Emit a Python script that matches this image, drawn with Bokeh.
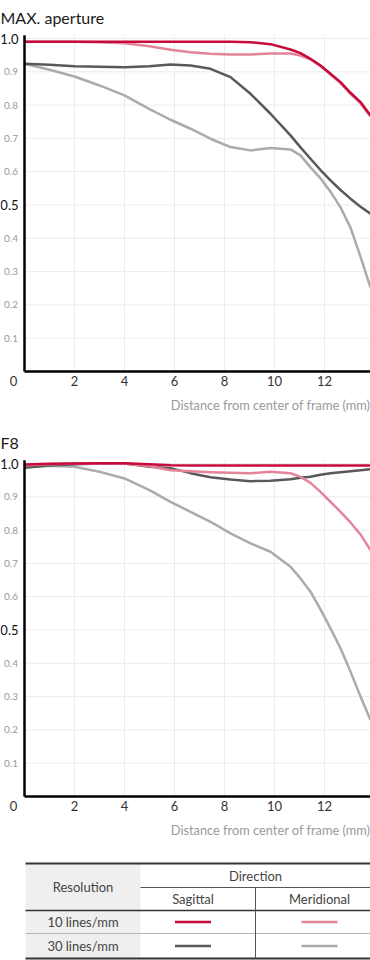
from bokeh.plotting import figure
from bokeh.models import Range1d, ColumnDataSource
from bokeh.layouts import column
from bokeh.core.properties import value
from bokeh.embed import file_html
from bokeh.resources import INLINE

FONT = "Lato"

# ---------------- data ----------------
x_mm = [0, 1, 2, 3, 4, 5, 5.84, 6.64, 7.44, 8.24, 9.04, 9.84, 10.64, 11.04, 11.44, 11.84, 12.24, 12.64, 13.04, 13.44, 13.84]

max_s10 = [0.99, 0.99, 0.99, 0.99, 0.99, 0.99, 0.99, 0.99, 0.99, 0.99, 0.989, 0.983, 0.967, 0.956, 0.939, 0.919, 0.894, 0.869, 0.837, 0.809, 0.769]
max_m10 = [0.99, 0.99, 0.99, 0.989, 0.986, 0.977, 0.966, 0.959, 0.954, 0.952, 0.952, 0.955, 0.955, 0.949, 0.937, 0.917, 0.892, 0.866, 0.834, 0.805, 0.766]
max_s30 = [0.924, 0.921, 0.917, 0.915, 0.914, 0.917, 0.922, 0.919, 0.909, 0.884, 0.834, 0.774, 0.709, 0.673, 0.639, 0.605, 0.574, 0.545, 0.519, 0.495, 0.474]
max_m30 = [0.924, 0.906, 0.886, 0.859, 0.829, 0.788, 0.756, 0.729, 0.699, 0.674, 0.664, 0.671, 0.667, 0.649, 0.613, 0.58, 0.54, 0.493, 0.432, 0.345, 0.252]

f8_s10 = [0.997, 0.999, 1.0, 1.001, 1.001, 0.998, 0.995, 0.994, 0.994, 0.994, 0.994, 0.994, 0.994, 0.994, 0.994, 0.994, 0.994, 0.994, 0.994, 0.994, 0.994]
f8_m10 = [0.995, 0.998, 1.0, 1.001, 1.0, 0.992, 0.98, 0.977, 0.974, 0.972, 0.971, 0.975, 0.971, 0.96, 0.942, 0.915, 0.885, 0.855, 0.823, 0.787, 0.74]
f8_s30 = [0.987, 0.994, 0.998, 1.0, 1.0, 0.99, 0.986, 0.971, 0.959, 0.952, 0.947, 0.948, 0.953, 0.957, 0.96, 0.966, 0.971, 0.974, 0.977, 0.98, 0.983]
f8_m30 = [0.99, 0.993, 0.99, 0.975, 0.955, 0.92, 0.885, 0.855, 0.825, 0.79, 0.76, 0.735, 0.69, 0.655, 0.615, 0.562, 0.505, 0.445, 0.375, 0.30, 0.23]

x_ticks = [2, 4, 6, 8, 10, 12]
x_tick_labels = ["2", "4", "6", "8", "10", "12"]
y_grid_ticks = [0.1, 0.2, 0.3, 0.4, 0.5, 0.6, 0.7, 0.8, 0.9, 1.0]
y_small_ticks = [0.1, 0.2, 0.3, 0.4, 0.6, 0.7, 0.8, 0.9]
y_small_labels = ["0.1", "0.2", "0.3", "0.4", "0.6", "0.7", "0.8", "0.9"]
y_big_ticks = [0.5, 1.0]
y_big_labels = ["0.5", "1.0"]

series_colors = ["#ababab", "#595959", "#e3849a", "#c70a3c"]  # 30M, 30S, 10M, 10S

x_title = "Distance from center of frame (mm)"

res_rows = ["10 lines/mm", "30 lines/mm"]
dir_cols = ["Sagittal", "Meridional"]
legend_colors = [["#c70a3c", "#e3849a"], ["#595959", "#ababab"]]

# ---------------- layout constants (pixels) ----------------
W = 370
LEFT = 24          # px from left edge to y axis
PX = 25.0          # px per mm
X_END = (W - LEFT) / PX
PY = 333.0         # px per 1.0 of MTF
Y_END = 1.01
TOP_PX = 38        # px from figure top to the 1.0 line
AXIS_PX = 371      # px from figure top to the 0 line
CH = 425           # chart figure height


def chart(title, ys):
    p = figure(width=W, height=CH,
               x_range=Range1d(-LEFT / PX, X_END),
               y_range=Range1d(-(CH - AXIS_PX) / PY, 1.0 + TOP_PX / PY),
               x_axis_type=None, y_axis_type=None, min_border=0,
               output_backend="svg", toolbar_location=None)
    p.outline_line_color = None
    p.grid.visible = False
    p.background_fill_color = "white"
    p.border_fill_color = "white"

    # grid
    p.segment(x0=x_ticks, x1=x_ticks, y0=[0] * len(x_ticks), y1=[Y_END] * len(x_ticks),
              line_color="#ececec", line_width=1)
    p.segment(x0=[0] * len(y_grid_ticks), x1=[X_END] * len(y_grid_ticks),
              y0=y_grid_ticks, y1=y_grid_ticks, line_color="#ececec", line_width=1)

    # curves
    for yv, c in zip(ys, series_colors):
        p.line(x_mm, yv, line_color=c, line_width=2.5, line_join="round")

    # axis lines
    p.segment(x0=[0, 0], y0=[0, 0], x1=[X_END, 0], y1=[0, Y_END],
              line_color="black", line_width=2.5)

    # y tick labels
    p.text(x=[0] * len(y_small_ticks), y=y_small_ticks, text=y_small_labels,
           x_offset=-6.5, text_align="right", text_baseline="middle",
           text_font=value(FONT), text_font_size=value("10px"), text_color="#9a9a9a")
    p.text(x=[0] * len(y_big_ticks), y=y_big_ticks, text=y_big_labels,
           x_offset=-6, text_align="right", text_baseline="middle",
           text_font=value(FONT), text_font_size=value("13px"), text_color="#111111")

    # x tick labels and origin
    p.text(x=x_ticks, y=[0] * len(x_ticks), text=x_tick_labels, y_offset=4,
           text_align="center", text_baseline="top",
           text_font=value(FONT), text_font_size=value("13px"), text_color="#333333")
    p.text(x=[0], y=[0], text=["0"], x_offset=-11, y_offset=4,
           text_align="center", text_baseline="top",
           text_font=value(FONT), text_font_size=value("13px"), text_color="#333333")

    # x title
    p.text(x=[X_END], y=[0], text=[x_title], y_offset=25,
           text_align="right", text_baseline="top",
           text_font=value(FONT), text_font_size=value("12.8px"), text_color="#9a9a9a")

    # chart title
    p.text(x=[-LEFT / PX], y=[1.0], text=[title], y_offset=-21,
           text_align="left", text_baseline="alphabetic",
           text_font=value(FONT), text_font_size=value("16px"), text_color="#1a1a1a")
    return p


p1 = chart("MAX. aperture", [max_m30, max_s30, max_m10, max_s10])
p2 = chart("F8", [f8_m30, f8_s30, f8_m10, f8_s10])

# ---------------- legend table ----------------
TH = 960 - 2 * CH
t = figure(width=W, height=TH, x_range=Range1d(0, W), y_range=Range1d(TH, 0),
           x_axis_type=None, y_axis_type=None, min_border=0,
           output_backend="svg", toolbar_location=None)
t.outline_line_color = None
t.grid.visible = False

c0, c1, c2, c3 = 25, 140, 255, W
r0 = 13
r1 = r0 + 24
r2 = r1 + 23
r3 = r2 + 23
r4 = r3 + 25
col_centers = [192.5, 319]

t.quad(left=[c0], right=[c1], top=[r0], bottom=[r4], fill_color="#efefef", line_color=None)

seg = ColumnDataSource(dict(
    x0=[c0, c1, c0, c0, c0, c2],
    x1=[c3, c3, c3, c3, c3, c2],
    y0=[r0, r1, r2, r3, r4, r1],
    y1=[r0, r1, r2, r3, r4, r4],
    w=[2, 1, 1.5, 1, 2, 1],
    c=["#333333", "#555555", "#333333", "#b5b5b5", "#333333", "#555555"],
))
t.segment(x0="x0", y0="y0", x1="x1", y1="y1", line_width="w", line_color="c", source=seg)

txt = ColumnDataSource(dict(
    x=[(c0 + c1) / 2, c2, col_centers[0], col_centers[1], (c0 + c1) / 2, (c0 + c1) / 2],
    y=[(r0 + r2) / 2, (r0 + r1) / 2, (r1 + r2) / 2, (r1 + r2) / 2, (r2 + r3) / 2, (r3 + r4) / 2],
    t=["Resolution", "Direction", dir_cols[0], dir_cols[1], res_rows[0], res_rows[1]],
))
t.text(x="x", y="y", text="t", source=txt, text_align="center", text_baseline="middle",
       text_font=value(FONT), text_font_size=value("13px"), text_color="#444444")

sw_x0, sw_x1, sw_y, sw_c = [], [], [], []
row_centers = [(r2 + r3) / 2, (r3 + r4) / 2]
for i, rc in enumerate(row_centers):
    for j, cc in enumerate(col_centers):
        sw_x0.append(cc - 18)
        sw_x1.append(cc + 18)
        sw_y.append(rc)
        sw_c.append(legend_colors[i][j])
t.segment(x0=sw_x0, y0=sw_y, x1=sw_x1, y1=sw_y, line_color=sw_c, line_width=2.5)

p = column(p1, p2, t)
open("out.html", "w").write(file_html(p, INLINE))
